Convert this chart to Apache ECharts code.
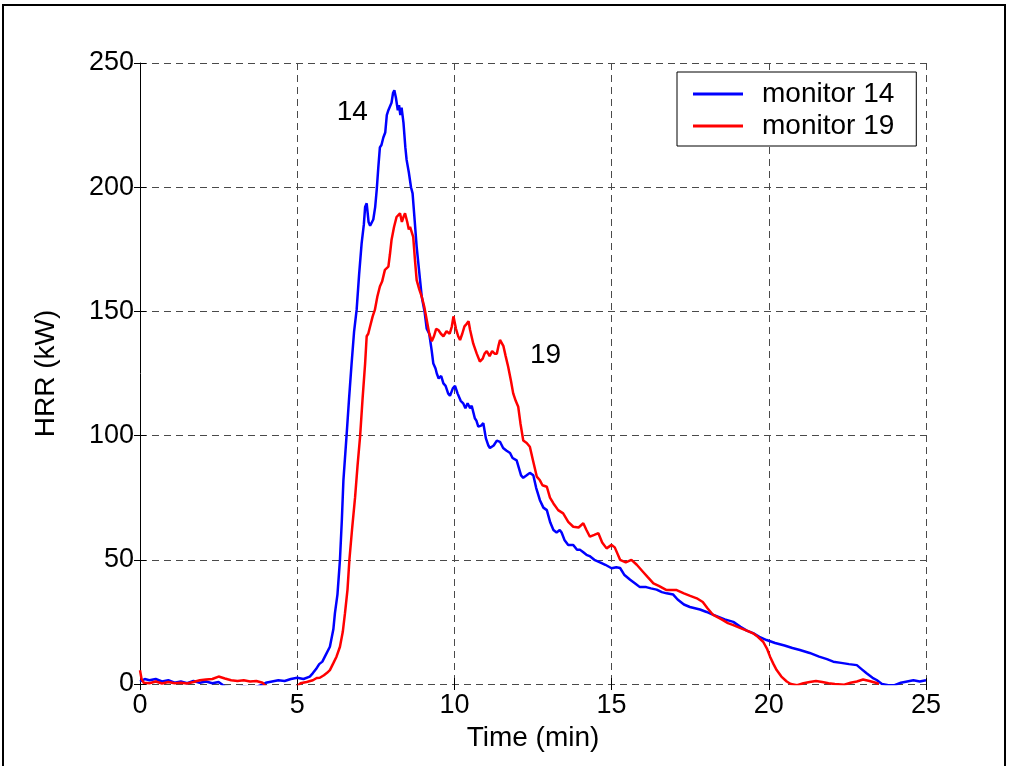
<!DOCTYPE html>
<html>
<head>
<meta charset="utf-8">
<script src="https://cdn.jsdelivr.net/npm/echarts@6/dist/echarts.min.js"></script>
<style>
html,body{margin:0;padding:0;background:#fff;}
#chart{width:1010px;height:766px;}
</style>
</head>
<body>
<div id="chart"></div>
<script>
// ---- data (time in min, HRR in kW) ----
var xTicks = [0, 5, 10, 15, 20, 25];
var yTicks = [0, 50, 100, 150, 200, 250];
var seriesNames = ['monitor 14', 'monitor 19'];

var monitor14 = [[0,1],[0.15,2],[0.3,1.5],[0.5,2],[0.7,1],[0.9,1.5],[1.1,0.5],[1.3,1],[1.5,0.3],[1.7,1.2],[1.9,0.5],[2.1,1],[2.3,0.3],[2.5,0.8],[2.7,-1],[3.0,-1.5],[3.3,-1],[3.6,-1.5],[3.85,-0.5],[4.0,0.5],[4.2,1],[4.4,1.5],[4.6,1.2],[4.8,2],[5.0,2.5],[5.2,2],[5.4,3],[5.5,4.4],[5.6,6],[5.7,8],[5.8,9],[5.9,11.5],[6.04,15],[6.15,22],[6.2,28.5],[6.28,36],[6.36,50],[6.42,66],[6.47,82],[6.57,100],[6.65,115],[6.73,129],[6.81,142],[6.89,150.6],[6.97,165],[7.05,177.5],[7.12,185],[7.16,192],[7.21,193.5],[7.27,186],[7.32,184.5],[7.38,184],[7.42,187],[7.48,192],[7.53,199],[7.58,208],[7.63,216],[7.68,217],[7.74,220],[7.8,222],[7.85,229],[7.9,231],[7.95,231],[8.0,234],[8.05,238],[8.09,239],[8.14,236],[8.2,231],[8.24,233],[8.28,229],[8.32,232],[8.38,226],[8.44,216],[8.48,211],[8.55,206],[8.62,200],[8.67,197.5],[8.74,186],[8.8,176],[8.88,166],[8.96,156],[9.05,150],[9.12,143],[9.2,141],[9.28,134],[9.33,129],[9.4,127],[9.44,125],[9.5,123],[9.58,124],[9.65,121],[9.72,120],[9.8,117],[9.86,116],[9.95,119],[10.02,120],[10.1,117],[10.2,114],[10.28,113],[10.35,111],[10.42,113],[10.5,111],[10.55,112],[10.65,107],[10.7,106],[10.76,103.6],[10.85,104],[10.92,105],[11.0,99],[11.08,96],[11.13,95],[11.25,96],[11.35,98],[11.45,97.5],[11.55,95],[11.65,94],[11.77,93],[11.85,91],[11.98,90],[12.05,87],[12.12,84],[12.19,83],[12.3,84],[12.4,85],[12.51,84],[12.6,79],[12.72,74],[12.83,71],[12.94,70],[13.05,65],[13.15,62],[13.25,61],[13.35,62],[13.41,61],[13.5,58],[13.62,56],[13.78,56],[13.9,54],[14.0,54],[14.1,53],[14.2,52],[14.3,51.5],[14.45,50],[14.63,49],[14.8,48],[15.0,46.6],[15.15,47],[15.27,46.7],[15.4,44],[15.59,42],[15.75,40.5],[15.9,39],[16.1,39],[16.25,38.5],[16.43,38],[16.6,37],[16.75,36.5],[16.96,36],[17.1,34],[17.3,32],[17.49,31],[17.65,30.5],[17.81,30],[18.02,29],[18.2,28],[18.4,27],[18.6,26],[18.87,25],[19.1,23],[19.3,21.5],[19.5,20.5],[19.7,19],[19.93,17.7],[20.2,16.5],[20.5,15.5],[20.75,14.5],[20.99,13.7],[21.3,12.5],[21.6,11],[21.85,10],[22.05,9],[22.3,8.5],[22.55,8],[22.8,7.6],[22.95,6],[23.11,4.3],[23.3,2.5],[23.43,1.6],[23.6,0],[23.8,-0.5],[24.0,-0.5],[24.2,0.5],[24.4,1],[24.6,1.5],[24.8,1],[25,1.5]];

var monitor19 = [[0,5.5],[0.05,2],[0.12,0.5],[0.3,0.3],[0.5,1],[0.7,0.2],[0.9,0.8],[1.1,0.3],[1.3,0.5],[1.5,0.2],[1.7,0.8],[1.9,1.5],[2.1,1.8],[2.3,2],[2.5,3],[2.7,2.2],[2.9,1.5],[3.1,1.2],[3.3,1.5],[3.5,1],[3.7,1.2],[3.9,0.5],[4.0,-1],[4.3,-2],[4.7,-2],[5.0,-1],[5.1,0.3],[5.3,0.8],[5.5,1.5],[5.62,2.4],[5.72,2.5],[5.85,3.5],[5.95,4.5],[6.04,5.6],[6.15,8.4],[6.25,11],[6.36,15],[6.45,21],[6.52,28.5],[6.6,38],[6.66,50],[6.75,63],[6.84,75],[6.92,88],[7.0,99.6],[7.08,115],[7.16,129],[7.21,140],[7.26,141],[7.32,144],[7.4,148],[7.47,150.6],[7.55,156],[7.63,160],[7.7,162],[7.79,166.7],[7.85,167],[7.9,168],[7.95,173],[8.0,178.7],[8.08,184],[8.16,188],[8.22,188],[8.27,189.5],[8.33,186],[8.38,188],[8.43,189.5],[8.5,186],[8.55,183],[8.59,184],[8.64,182],[8.69,180],[8.75,170],[8.8,162.6],[8.88,159],[8.96,156],[9.04,152],[9.12,146.5],[9.2,141],[9.28,138],[9.35,140],[9.42,143],[9.49,142.5],[9.57,141],[9.65,140],[9.75,142],[9.85,141],[9.92,144],[9.97,148],[10.05,143],[10.12,140],[10.18,138.5],[10.25,141],[10.32,144],[10.39,145],[10.45,146],[10.5,142.5],[10.6,137],[10.71,133],[10.81,129.8],[10.9,131],[10.96,133],[11.03,134],[11.12,132],[11.2,134],[11.28,133],[11.35,133],[11.4,136],[11.45,138.5],[11.5,138],[11.56,136],[11.63,132],[11.71,127.7],[11.8,122],[11.87,117],[11.95,114],[12.03,111.6],[12.1,105],[12.19,98],[12.3,97],[12.4,95.5],[12.5,90],[12.62,83.5],[12.72,82],[12.8,80],[12.94,79.4],[13.04,75],[13.15,72.7],[13.3,70],[13.46,68.7],[13.62,65.3],[13.78,63.3],[13.95,63],[14.1,64.7],[14.2,62],[14.31,59.3],[14.45,60],[14.58,60.7],[14.7,57],[14.84,54.6],[15.0,56],[15.1,55],[15.27,50],[15.45,49],[15.63,50],[15.8,48],[16.01,45],[16.15,43],[16.33,40.5],[16.5,39.5],[16.75,37.8],[17.07,37.8],[17.3,36.5],[17.5,35.5],[17.71,34.5],[17.9,33],[18.05,30.5],[18.23,27.8],[18.5,26],[18.7,24.5],[18.87,23.7],[19.1,22.5],[19.3,21.5],[19.5,20.4],[19.65,19],[19.82,17],[19.95,14],[20.04,11],[20.15,8],[20.25,5.6],[20.4,3],[20.57,1],[20.7,0],[20.9,-0.5],[21.1,0.3],[21.3,0.8],[21.5,1.2],[21.7,0.8],[21.9,0.3],[22.1,0],[22.4,-0.3],[22.6,0.5],[22.8,1],[23.0,1.8],[23.2,1.2],[23.4,0.5],[23.5,0]];

var annotations = [
  {text: '14', at: [6.75, 230]},
  {text: '19', at: [12.9, 132.5]}
];

// ---- chart ----
var FONT = 'Liberation Sans, Arial, sans-serif';
var FS = 27;
var FS_T = 28;
var chart = echarts.init(document.getElementById('chart'), null, {renderer: 'canvas'});

var gridDash = {show: true, lineStyle: {color: '#4a4a4a', type: [7, 5], width: 1}};
var tickStyle = {show: true, inside: true, length: 6, lineStyle: {color: '#000', width: 1}};

chart.setOption({
  animation: false,
  backgroundColor: '#fff',
  textStyle: {fontFamily: FONT},
  graphic: [{
    type: 'rect', silent: true,
    shape: {x: 3, y: 5, width: 1002, height: 780},
    style: {fill: 'none', stroke: '#000', lineWidth: 2}
  }],
  grid: {left: 140, right: 84, top: 63, bottom: 82, containLabel: false},
  legend: {
    data: seriesNames,
    orient: 'vertical',
    left: 677, top: 72,
    backgroundColor: '#fff',
    borderColor: '#000', borderWidth: 1,
    padding: [8, 22, 6, 16],
    itemGap: 4,
    itemWidth: 50, itemHeight: 3,
    icon: 'rect',
    textStyle: {fontSize: FS_T, color: '#000', fontFamily: FONT, padding: [0, 0, 0, 14]}
  },
  xAxis: [{
    type: 'value', min: 0, max: 25, interval: 5,
    name: 'Time (min)', nameLocation: 'middle', nameGap: 40,
    nameTextStyle: {fontSize: FS_T, color: '#000', fontFamily: FONT},
    axisLine: {show: false},
    axisTick: tickStyle,
    axisLabel: {fontSize: FS, color: '#000', margin: 8, fontFamily: FONT,
      formatter: function (v) { return xTicks.indexOf(v) >= 0 ? String(v) : ''; }},
    splitLine: gridDash
  }, {
    type: 'value', min: 0, max: 25, interval: 5, position: 'top',
    axisLine: {show: false}, axisTick: tickStyle, axisLabel: {show: false}, splitLine: {show: false}
  }],
  yAxis: [{
    type: 'value', min: 0, max: 250, interval: 50,
    name: 'HRR (kW)', nameLocation: 'middle', nameGap: 80,
    nameTextStyle: {fontSize: FS_T, color: '#000', fontFamily: FONT},
    axisLine: {show: true, lineStyle: {color: '#000', width: 1}},
    axisTick: tickStyle,
    axisLabel: {fontSize: FS, color: '#000', margin: 6, fontFamily: FONT,
      formatter: function (v) { return yTicks.indexOf(v) >= 0 ? String(v) : ''; }},
    splitLine: gridDash
  }, {
    type: 'value', min: 0, max: 250, interval: 50, position: 'right',
    axisLine: {show: false}, axisTick: tickStyle, axisLabel: {show: false}, splitLine: {show: false}
  }],
  series: [{
    name: seriesNames[0], type: 'line', data: monitor14,
    showSymbol: false, symbol: 'none', clip: true,
    lineStyle: {color: '#0000ff', width: 2.5}, itemStyle: {color: '#0000ff'},
    markPoint: {
      symbol: 'circle', symbolSize: 0, silent: true,
      label: {show: true, position: 'inside', formatter: annotations[0].text, fontSize: FS_T, color: '#000', fontFamily: FONT},
      data: [{coord: annotations[0].at}]
    }
  }, {
    name: seriesNames[1], type: 'line', data: monitor19,
    showSymbol: false, symbol: 'none', clip: true,
    lineStyle: {color: '#ff0000', width: 2.5}, itemStyle: {color: '#ff0000'},
    markPoint: {
      symbol: 'circle', symbolSize: 0, silent: true,
      label: {show: true, position: 'inside', formatter: annotations[1].text, fontSize: FS_T, color: '#000', fontFamily: FONT},
      data: [{coord: annotations[1].at}]
    }
  }]
});
</script>
</body>
</html>
